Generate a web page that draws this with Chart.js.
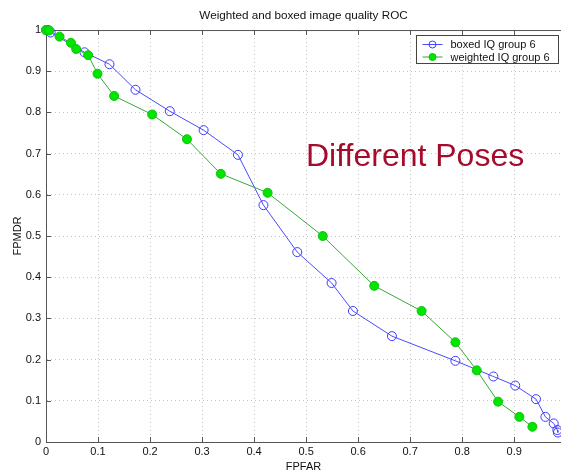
<!DOCTYPE html>
<html>
<head>
<meta charset="utf-8">
<script src="https://cdn.jsdelivr.net/npm/chart.js@4.4.1/dist/chart.umd.min.js"></script>
<style>
html,body{margin:0;padding:0;background:#fff;}
#wrap{width:561px;height:474px;position:relative;}
</style>
</head>
<body>
<div id="wrap"><canvas id="c" width="561" height="474"></canvas></div>
<script>
const chartTitle = "Weighted and boxed image quality ROC";
const xLabel = "FPFAR";
const yLabel = "FPMDR";
const annotationText = "Different Poses";
const seriesNames = ["boxed IQ group 6", "weighted IQ group 6"];
const xTicks = [0, 0.1, 0.2, 0.3, 0.4, 0.5, 0.6, 0.7, 0.8, 0.9];
const yTicks = [0, 0.1, 0.2, 0.3, 0.4, 0.5, 0.6, 0.7, 0.8, 0.9, 1];

const boxedX = [0.000, 0.004, 0.009, 0.074, 0.122, 0.172, 0.238, 0.303, 0.369, 0.418, 0.483, 0.549, 0.590, 0.665, 0.787, 0.860, 0.902, 0.942, 0.960, 0.976, 0.983, 0.984];
const boxedY = [1.000, 1.000, 0.994, 0.946, 0.917, 0.855, 0.803, 0.757, 0.697, 0.575, 0.461, 0.386, 0.318, 0.257, 0.197, 0.159, 0.137, 0.104, 0.061, 0.045, 0.029, 0.023];
const weightedX = [0.000, 0.006, 0.026, 0.048, 0.058, 0.081, 0.099, 0.131, 0.204, 0.271, 0.336, 0.426, 0.532, 0.631, 0.722, 0.787, 0.828, 0.869, 0.910, 0.935];
const weightedY = [1.000, 0.999, 0.984, 0.969, 0.954, 0.939, 0.894, 0.840, 0.795, 0.735, 0.651, 0.605, 0.500, 0.379, 0.318, 0.242, 0.174, 0.098, 0.061, 0.037];

const FONT = "'Liberation Sans', Arial, Helvetica, sans-serif";
const toPts = (xs, ys) => xs.map((x, i) => ({x: x, y: ys[i]}));

const frameTicks = {
  id: 'frameTicks',
  beforeDatasetsDraw(chart) {
    const {ctx, chartArea: a, scales} = chart;
    ctx.save();
    ctx.strokeStyle = '#555';
    ctx.lineWidth = 1;
    ctx.beginPath();
    ctx.moveTo(a.left + 0.5, a.top + 0.5);
    ctx.lineTo(a.right, a.top + 0.5);
    ctx.stroke();
    const L = 5;
    ctx.beginPath();
    xTicks.forEach(v => {
      const px = Math.round(scales.x.getPixelForValue(v)) + 0.5;
      ctx.moveTo(px, a.top); ctx.lineTo(px, a.top + L);
      ctx.moveTo(px, a.bottom); ctx.lineTo(px, a.bottom - L);
    });
    yTicks.forEach(v => {
      const py = Math.round(scales.y.getPixelForValue(v)) + 0.5;
      ctx.moveTo(a.left, py); ctx.lineTo(a.left + L, py);
    });
    ctx.stroke();
    ctx.restore();
  },
  afterDraw(chart) {
    const {ctx, chartArea: a} = chart;
    ctx.save();
    // annotation
    ctx.fillStyle = '#a50c2c';
    ctx.font = "32px " + FONT;
    ctx.textBaseline = 'alphabetic';
    ctx.textAlign = 'left';
    ctx.fillText(annotationText, a.left + 260, a.top + 136);
    // legend
    const bx = 416.5, by = 35.5, bw = 142, bh = 28;
    ctx.fillStyle = '#fff';
    ctx.fillRect(bx, by, bw, bh);
    ctx.strokeStyle = '#444';
    ctx.lineWidth = 1;
    ctx.strokeRect(bx, by, bw, bh);
    ctx.font = "11px " + FONT;
    ctx.textBaseline = 'middle';
    chart.data.datasets.forEach((ds, i) => {
      const cy = by + 9 + i * 12.5;
      ctx.strokeStyle = ds.borderColor;
      ctx.beginPath();
      ctx.moveTo(bx + 6, cy); ctx.lineTo(bx + 26, cy);
      ctx.stroke();
      ctx.beginPath();
      ctx.arc(bx + 16, cy, 3.5, 0, Math.PI * 2);
      ctx.fillStyle = ds.pointBackgroundColor;
      ctx.fill();
      ctx.strokeStyle = ds.pointBorderColor;
      ctx.stroke();
      ctx.fillStyle = '#111';
      ctx.fillText(ds.label, bx + 34, cy + 0.5);
    });
    ctx.restore();
  }
};

new Chart(document.getElementById('c'), {
  type: 'scatter',
  data: {
    datasets: [
      {
        label: seriesNames[0],
        data: toPts(boxedX, boxedY),
        showLine: true,
        clip: false,
        borderColor: '#4a4aff',
        borderWidth: 1,
        pointRadius: 4.5,
        pointBorderWidth: 1,
        pointBackgroundColor: 'rgba(255,255,255,0)',
        pointBorderColor: '#3c3cff',
        order: 2
      },
      {
        label: seriesNames[1],
        data: toPts(weightedX, weightedY),
        showLine: true,
        clip: false,
        borderColor: '#36a836',
        borderWidth: 1,
        pointRadius: 4.5,
        pointBorderWidth: 1,
        pointBackgroundColor: '#00e600',
        pointBorderColor: '#10c010',
        order: 1
      }
    ]
  },
  options: {
    responsive: false,
    animation: false,
    devicePixelRatio: 1,
    layout: {autoPadding: false, padding: {left: 0, right: 0, top: 0, bottom: 0}},
    plugins: {
      legend: {display: false},
      tooltip: {enabled: false},
      title: {
        display: true,
        fullSize: false,
        text: chartTitle,
        color: '#111',
        font: {family: FONT, size: 11.7, weight: 'normal'},
        padding: {top: 9, bottom: 7}
      }
    },
    scales: {
      x: {
        type: 'linear',
        min: 0,
        max: 0.99,
        afterBuildTicks: s => { s.ticks = xTicks.map(v => ({value: v})); },
        afterFit: s => { s.height = 32; s.paddingLeft = 0; s.paddingRight = 0; },
        ticks: {
          color: '#111',
          font: {family: FONT, size: 11},
          padding: 3,
          maxRotation: 0,
          autoSkip: false,
          callback: v => String(v)
        },
        grid: {color: '#c4c4c4', drawTicks: false, lineWidth: 1},
        border: {display: true, color: '#555', dash: [1, 3], dashOffset: 0},
        title: {
          display: true, text: xLabel, color: '#111',
          font: {family: FONT, size: 11}, padding: {top: 1, bottom: 0}
        }
      },
      y: {
        type: 'linear',
        min: 0,
        max: 1,
        afterBuildTicks: s => { s.ticks = yTicks.map(v => ({value: v})); },
        afterFit: s => { s.width = 46; s.paddingTop = 0; s.paddingBottom = 0; },
        ticks: {
          color: '#111',
          font: {family: FONT, size: 11},
          padding: 5,
          autoSkip: false,
          callback: v => String(v)
        },
        grid: {color: '#c4c4c4', drawTicks: false, lineWidth: 1},
        border: {display: true, color: '#555', dash: [1, 3]},
        title: {
          display: true, text: yLabel, color: '#111',
          font: {family: FONT, size: 11}, padding: {top: 11, bottom: 0}
        }
      }
    }
  },
  plugins: [frameTicks]
});
</script>
</body>
</html>
